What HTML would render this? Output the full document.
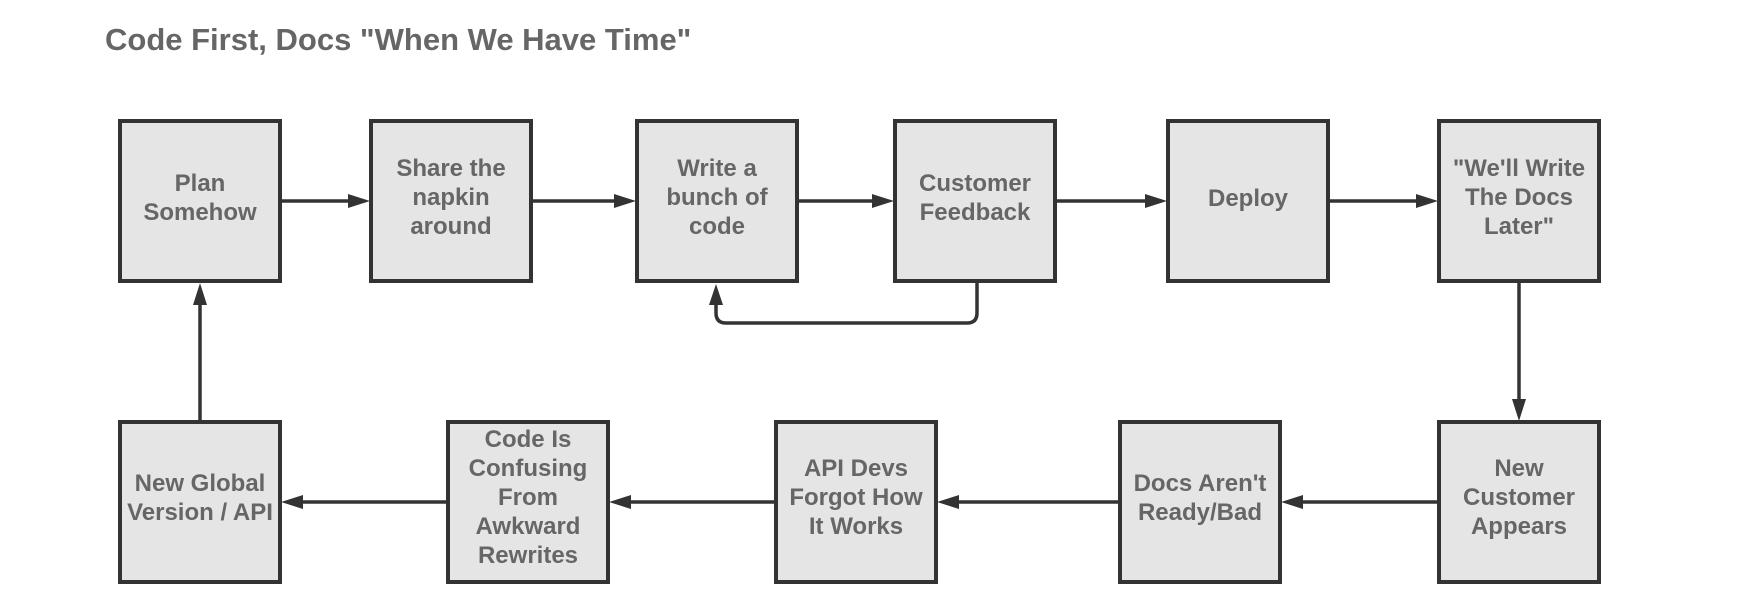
<!DOCTYPE html>
<html><head><meta charset="utf-8"><style>
html,body{margin:0;padding:0;background:#fff;}
svg{display:block;}
text{font-family:"Liberation Sans",sans-serif;font-weight:bold;fill:#666;}
</style></head><body>
<svg width="1760" height="609" viewBox="0 0 1760 609" xmlns="http://www.w3.org/2000/svg">
<text x="105" y="50" font-size="31">Code First, Docs "When We Have Time"</text>
<g fill="#e5e5e5" stroke="#333" stroke-width="4">
<rect x="120" y="121" width="160" height="160"/>
<rect x="371" y="121" width="160" height="160"/>
<rect x="637" y="121" width="160" height="160"/>
<rect x="895" y="121" width="160" height="160"/>
<rect x="1168" y="121" width="160" height="160"/>
<rect x="1439" y="121" width="160" height="160"/>
<rect x="120" y="422" width="160" height="160"/>
<rect x="448" y="422" width="160" height="160"/>
<rect x="776" y="422" width="160" height="160"/>
<rect x="1120" y="422" width="160" height="160"/>
<rect x="1439" y="422" width="160" height="160"/>
</g>
<g stroke="#333" stroke-width="3.5" fill="none">
<line x1="282" y1="201" x2="352" y2="201"/>
<line x1="533" y1="201" x2="618" y2="201"/>
<line x1="799" y1="201" x2="876" y2="201"/>
<line x1="1057" y1="201" x2="1149" y2="201"/>
<line x1="1330" y1="201" x2="1420" y2="201"/>
<line x1="1519" y1="283" x2="1519" y2="403"/>
<line x1="1437" y1="502" x2="1299" y2="502"/>
<line x1="1118" y1="502" x2="955" y2="502"/>
<line x1="774" y1="502" x2="627" y2="502"/>
<line x1="446" y1="502" x2="299" y2="502"/>
<line x1="200" y1="420" x2="200" y2="301"/>
<path d="M977 283 V313 Q977 323 967 323 H726 Q716 323 716 313 V302"/>
</g>
<g fill="#333">
<polygon points="370,201 348,194 348,208"/>
<polygon points="636,201 614,194 614,208"/>
<polygon points="894,201 872,194 872,208"/>
<polygon points="1167,201 1145,194 1145,208"/>
<polygon points="1438,201 1416,194 1416,208"/>
<polygon points="1519,421 1512,399 1526,399"/>
<polygon points="1281,502 1303,495 1303,509"/>
<polygon points="937,502 959,495 959,509"/>
<polygon points="609,502 631,495 631,509"/>
<polygon points="281,502 303,495 303,509"/>
<polygon points="200,283 193,305 207,305"/>
<polygon points="716,284 709,305 723,305"/>
</g>
<g font-size="24" text-anchor="middle">
<text x="200" y="191">Plan</text><text x="200" y="220">Somehow</text>
<text x="451" y="176">Share the</text><text x="451" y="205">napkin</text><text x="451" y="234">around</text>
<text x="717" y="176">Write a</text><text x="717" y="205">bunch of</text><text x="717" y="234">code</text>
<text x="975" y="191">Customer</text><text x="975" y="220">Feedback</text>
<text x="1248" y="206">Deploy</text>
<text x="1519" y="176">"We'll Write</text><text x="1519" y="205">The Docs</text><text x="1519" y="234">Later"</text>
<text x="200" y="491">New Global</text><text x="200" y="520">Version / API</text>
<text x="528" y="447">Code Is</text><text x="528" y="476">Confusing</text><text x="528" y="505">From</text><text x="528" y="534">Awkward</text><text x="528" y="563">Rewrites</text>
<text x="856" y="476">API Devs</text><text x="856" y="505">Forgot How</text><text x="856" y="534">It Works</text>
<text x="1200" y="491">Docs Aren't</text><text x="1200" y="520">Ready/Bad</text>
<text x="1519" y="476">New</text><text x="1519" y="505">Customer</text><text x="1519" y="534">Appears</text>
</g>
</svg>
</body></html>
